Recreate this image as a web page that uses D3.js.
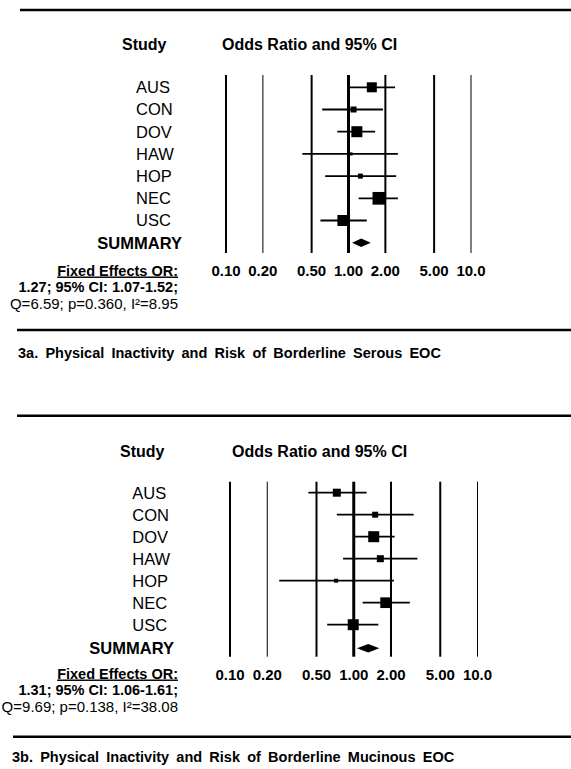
<!DOCTYPE html>
<html>
<head>
<meta charset="utf-8">
<script src="https://cdn.jsdelivr.net/npm/d3@7"></script>
<style>
  body { margin: 0; background: #fff; }
  svg { display: block; font-family: "Liberation Sans", Arial, sans-serif; }
</style>
</head>
<body>
<svg id="chart" width="571" height="769"></svg>
<script>
// Studies and tick labels (shared by both panels)
const studies = ["AUS", "CON", "DOV", "HAW", "HOP", "NEC", "USC"];
const tickValues = [0.1, 0.2, 0.5, 1, 2, 5, 10];
const tickLabels = ["0.10", "0.20", "0.50", "1.00", "2.00", "5.00", "10.0"];

// 3a. Borderline serous
const orA = [1.55, 1.10, 1.17, 1.05, 1.25, 1.77, 0.90];
const loA = [1.01, 0.61, 0.81, 0.42, 0.645, 1.21, 0.59];
const hiA = [2.40, 1.91, 1.65, 2.53, 2.45, 2.53, 1.41];
const wtA = [16.5, 5.9, 19.9, 1.5, 4.1, 26.5, 19.9];
const summaryA = [1.27, 1.07, 1.52];
const statsA = ["Fixed Effects OR:", "1.27; 95% CI: 1.07-1.52;", "Q=6.59; p=0.360, I\u00b2=8.95"];
const captionA = "3a. Physical Inactivity and Risk of Borderline Serous EOC";

// 3b. Borderline mucinous
const orB = [0.73, 1.49, 1.45, 1.64, 0.72, 1.81, 0.99];
const loB = [0.43, 0.73, 1.00, 0.82, 0.25, 1.18, 0.61];
const hiB = [1.27, 3.05, 2.14, 3.27, 2.11, 2.84, 1.58];
const wtB = [10.5, 5.9, 19.9, 8.1, 2.6, 18.8, 19.9];
const summaryB = [1.31, 1.06, 1.61];
const statsB = ["Fixed Effects OR:", "1.31; 95% CI: 1.06-1.61;", "Q=9.69; p=0.138, I\u00b2=38.08"];
const captionB = "3b. Physical Inactivity and Risk of Borderline Mucinous EOC";

const svg = d3.select("#chart");

// square side from study weight
const sizeScale = d3.scaleSqrt().domain([0, 30]).range([0, 13.5]);

function drawPanel(p) {
  const g = svg.append("g");
  const x = d3.scaleLog().domain([0.1, 10]).range(p.xRange);

  // top rule
  g.append("line")
    .attr("x1", p.ruleX0).attr("x2", 571)
    .attr("y1", p.ruleTop).attr("y2", p.ruleTop)
    .attr("stroke", "#000").attr("stroke-width", 2.5);

  // column headers
  g.append("text")
    .attr("x", p.studyTitleX).attr("y", p.titleY)
    .attr("font-size", "16px").attr("font-weight", "bold")
    .text("Study");
  g.append("text")
    .attr("x", p.orTitleX).attr("y", p.titleY)
    .attr("font-size", "16px").attr("font-weight", "bold")
    .text("Odds Ratio and 95% CI");

  // vertical reference lines
  g.selectAll(".vline")
    .data(tickValues)
    .enter().append("line")
    .attr("x1", d => x(d)).attr("x2", d => x(d))
    .attr("y1", p.vTop).attr("y2", p.vBot)
    .attr("stroke", "#000")
    .attr("stroke-width", d => d === 1 ? 3 : (d === 0.2 || d === 10) ? 1 : 2);

  // tick labels
  g.selectAll(".tick")
    .data(tickValues)
    .enter().append("text")
    .attr("x", d => x(d)).attr("y", p.tickY)
    .attr("text-anchor", "middle")
    .attr("font-size", "15px").attr("font-weight", "bold")
    .text((d, i) => tickLabels[i]);

  const y = i => p.row0 + i * p.rowStep;

  // study labels
  g.selectAll(".study")
    .data(studies)
    .enter().append("text")
    .attr("x", p.labelX).attr("y", (d, i) => y(i))
    .attr("dy", "0.36em")
    .attr("font-size", "16.5px")
    .text(d => d);

  g.append("text")
    .attr("x", p.sumRight).attr("y", p.sumY)
    .attr("dy", "0.36em")
    .attr("text-anchor", "end")
    .attr("font-size", "16.5px").attr("font-weight", "bold")
    .text("SUMMARY");

  // CI lines
  g.selectAll(".ci")
    .data(studies)
    .enter().append("line")
    .attr("x1", (d, i) => x(p.lo[i])).attr("x2", (d, i) => x(p.hi[i]))
    .attr("y1", (d, i) => y(i)).attr("y2", (d, i) => y(i))
    .attr("stroke", "#000").attr("stroke-width", 1.8);

  // weight squares
  g.selectAll(".sq")
    .data(studies)
    .enter().append("rect")
    .attr("x", (d, i) => x(p.or[i]) - sizeScale(p.wt[i]) / 2)
    .attr("y", (d, i) => y(i) - sizeScale(p.wt[i]) / 2)
    .attr("width", (d, i) => sizeScale(p.wt[i]))
    .attr("height", (d, i) => sizeScale(p.wt[i]))
    .attr("fill", "#000");

  // summary diamond
  const [est, lo, hi] = p.summary;
  const dh = 4.2;
  g.append("polygon")
    .attr("points", [
      [x(lo), p.sumY], [x(est), p.sumY - dh], [x(hi), p.sumY], [x(est), p.sumY + dh]
    ].map(q => q.join(",")).join(" "))
    .attr("fill", "#000");

  // fixed effects text
  g.append("text")
    .attr("x", p.statsRight).attr("y", p.statsY[0])
    .attr("text-anchor", "end")
    .attr("font-size", "14.5px").attr("font-weight", "bold")
    .attr("text-decoration", "underline")
    .text(p.stats[0]);
  g.append("text")
    .attr("x", p.statsRight).attr("y", p.statsY[1])
    .attr("text-anchor", "end")
    .attr("font-size", "14.5px").attr("font-weight", "bold")
    .text(p.stats[1]);
  g.append("text")
    .attr("x", p.statsRight).attr("y", p.statsY[2])
    .attr("text-anchor", "end")
    .attr("font-size", "15px")
    .text(p.stats[2]);

  // bottom rule and caption
  g.append("line")
    .attr("x1", p.sepX0).attr("x2", 571)
    .attr("y1", p.sepY).attr("y2", p.sepY)
    .attr("stroke", "#000").attr("stroke-width", 2.5);
  g.append("text")
    .attr("x", p.capX).attr("y", p.capY)
    .attr("font-size", "14.5px").attr("font-weight", "bold")
    .attr("word-spacing", "3.2px")
    .text(p.caption);
}

drawPanel({
  or: orA, lo: loA, hi: hiA, wt: wtA, summary: summaryA, stats: statsA, caption: captionA,
  xRange: [226, 471],
  ruleTop: 10, ruleX0: 20, titleY: 50, studyTitleX: 122, orTitleX: 222,
  vTop: 75, vBot: 253, row0: 87.3, rowStep: 22.2, sumY: 242.7,
  labelX: 136, sumRight: 182, tickY: 276,
  statsRight: 178, statsY: [275.5, 292, 309],
  sepY: 330, sepX0: 17, capX: 18, capY: 358
});

drawPanel({
  or: orB, lo: loB, hi: hiB, wt: wtB, summary: summaryB, stats: statsB, caption: captionB,
  xRange: [230, 477.5],
  ruleTop: 415.7, ruleX0: 17, titleY: 457, studyTitleX: 120, orTitleX: 232,
  vTop: 481.7, vBot: 656.7, row0: 492.7, rowStep: 22, sumY: 648.3,
  labelX: 132.3, sumRight: 174, tickY: 680,
  statsRight: 178, statsY: [678.5, 695, 712],
  sepY: 736.7, sepX0: 13, capX: 12, capY: 762
});
</script>
</body>
</html>
